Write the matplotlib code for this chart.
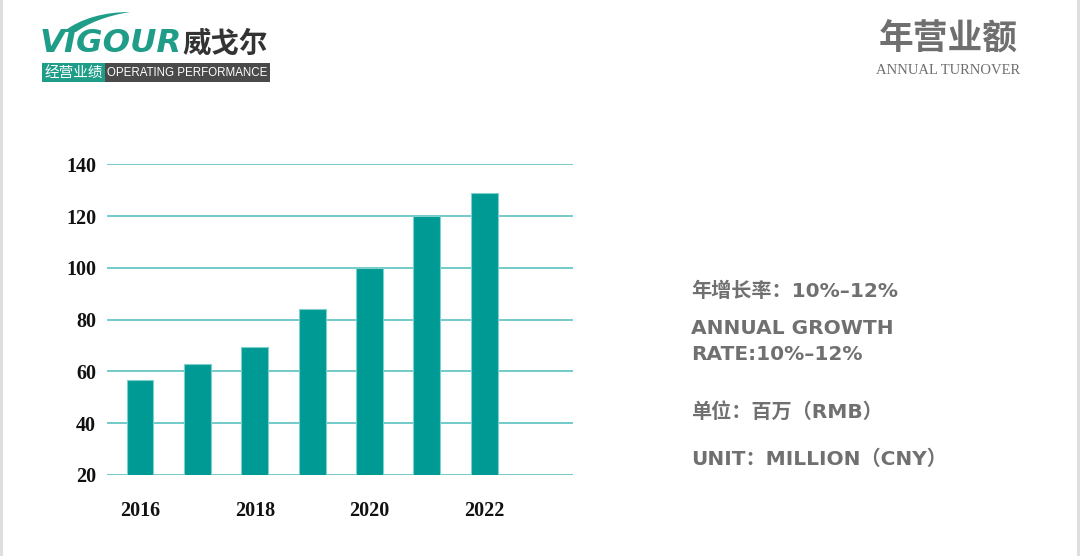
import matplotlib
matplotlib.use("Agg")
import matplotlib.pyplot as plt
from matplotlib.patches import Rectangle, PathPatch
from matplotlib.path import Path

# chart data
years = [2016, 2017, 2018, 2019, 2020, 2021, 2022]
turnover = [56.5, 63, 69.5, 84, 100, 120, 129]
tick_years = ["2016", "2018", "2020", "2022"]
y_ticks = [20, 40, 60, 80, 100, 120, 140]

# side notes
note_lines = ["年增长率：10%–12%", "ANNUAL GROWTH", "RATE:10%–12%",
              "单位：百万（RMB）", "UNIT：MILLION（CNY）"]
note_y = [291, 329, 354, 412, 459]

W, H = 1080, 556
BAR = "#009a95"
GRID = "#4dbdbb"
GRAY = "#707070"
LOGO = "#1f9d89"

plt.rcParams['font.family'] = ['Noto Sans CJK SC', 'DejaVu Sans']

fig = plt.figure(figsize=(W / 100, H / 100), dpi=100)
fig.patch.set_facecolor("white")


def fx(x):
    return x / W


def fy(y):
    return 1 - y / H


# grey strips at the page edges
fig.patches.append(Rectangle((0, 0), fx(3), 1, transform=fig.transFigure,
                             facecolor="#dedede", edgecolor="none"))
fig.patches.append(Rectangle((fx(1077), 0), fx(3), 1, transform=fig.transFigure,
                             facecolor="#dedede", edgecolor="none"))

# bar chart
ax = fig.add_axes([fx(107.3), fy(475), fx(573) - fx(107.3), fy(164.3) - fy(475)])
pos = list(range(len(years)))
ax.bar(pos, turnover, width=0.47, color=BAR, edgecolor="#7fcfcb",
       linewidth=0.8, zorder=3)
ax.set_ylim(20, 140)
ax.set_xlim(-0.57, 7.55)
ax.set_yticks(y_ticks)
ax.set_yticklabels([str(v) for v in y_ticks])
ax.set_xticks([0, 2, 4, 6])
ax.set_xticklabels(tick_years)
for v in y_ticks:
    ax.axhline(v, color=GRID, linewidth=1.1, zorder=1)
for s in ax.spines.values():
    s.set_visible(False)
ax.tick_params(length=0)
ax.tick_params(axis="y", pad=8)
ax.tick_params(axis="x", pad=19)
for lab in ax.get_xticklabels() + ax.get_yticklabels():
    lab.set_fontfamily("Liberation Serif")
    lab.set_fontweight("bold")
    lab.set_fontsize(14.5)
    lab.set_color("#111111")

# logo, top left
swoosh = Path([(fx(63), fy(32)), (fx(81), fy(18)), (fx(105), fy(12)), (fx(130), fy(12)),
               (fx(105), fy(16)), (fx(87), fy(24)), (fx(76), fy(32)), (fx(63), fy(32))],
              [Path.MOVETO, Path.CURVE4, Path.CURVE4, Path.CURVE4,
               Path.CURVE4, Path.CURVE4, Path.CURVE4, Path.CLOSEPOLY])
fig.patches.append(PathPatch(swoosh, transform=fig.transFigure,
                             facecolor=LOGO, edgecolor="none"))
fig.text(fx(40), fy(43), "VIGOUR", family="DejaVu Sans", fontsize=23.3,
         fontweight="bold", style="oblique", color=LOGO, va="center", ha="left")
fig.text(fx(182), fy(44), "威戈尔", fontsize=20.5, fontweight="bold",
         color="#333333", va="center", ha="left")
fig.patches.append(Rectangle((fx(42), fy(82)), fx(63), fy(63) - fy(82),
                             transform=fig.transFigure, facecolor=LOGO, edgecolor="none"))
fig.patches.append(Rectangle((fx(105), fy(82)), fx(165), fy(63) - fy(82),
                             transform=fig.transFigure, facecolor="#4a4a4a", edgecolor="none"))
fig.text(fx(73.5), fy(72.5), "经营业绩", fontsize=10.5, color="white",
         va="center", ha="center")
fig.text(fx(187.5), fy(72.5), "OPERATING PERFORMANCE", family="Liberation Sans",
         fontsize=8.3, color="white", va="center", ha="center")

# title, top right
fig.text(fx(948), fy(39), "年营业额", fontsize=25, fontweight="black",
         color="#6f6f6f", va="center", ha="center")
fig.text(fx(948), fy(71), "ANNUAL TURNOVER", family="Liberation Serif",
         fontsize=10.5, color="#6f6f6f", va="center", ha="center")

# notes on the right
for txt, y in zip(note_lines, note_y):
    fig.text(fx(691), fy(y), txt, family=["DejaVu Sans", "Noto Sans CJK SC"],
             fontsize=14.5, fontweight="bold", color=GRAY, va="center", ha="left")

fig.savefig("out.png", dpi=100, facecolor="white")
